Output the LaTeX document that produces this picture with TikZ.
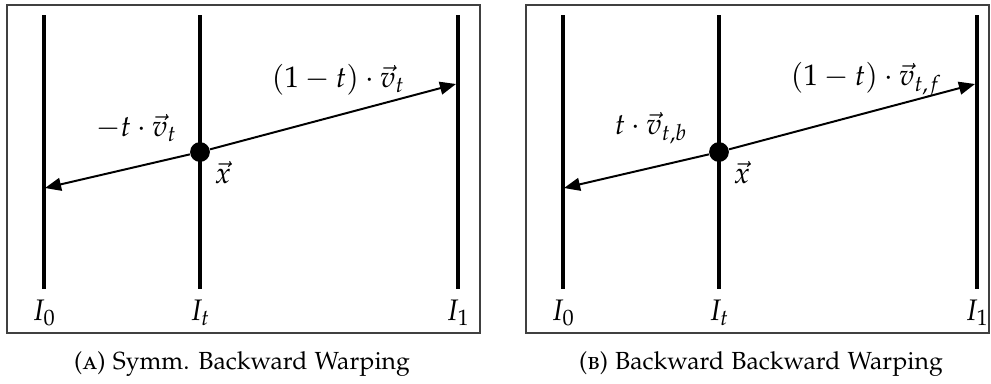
\documentclass[tikz,border=0pt]{standalone}
\usepackage[T1]{fontenc}
\usepackage[sc]{mathpazo}
\usetikzlibrary{arrows.meta}

\begin{document}
\begin{tikzpicture}[x=0.0142cm, y=-0.0142cm,
	frame/.style={draw=black!75, line width=0.5pt},
	track/.style={line width=1.6pt},
	flow/.style={line width=0.8pt, -{Triangle[length=6.5pt, width=5.2pt]}},
	pix/.style={circle, fill, inner sep=0pt, minimum size=8pt},
	lbl/.style={font=\large},
	]
	\useasboundingbox (0,0) rectangle (991,383);
	\foreach \p/\sh/\rx/\lv/\rv/\cp in {
		a/0/480/{-t\cdot\vec{v}_t}/{(1-t)\cdot\vec{v}_t}/{(\textsc{a}) Symm. Backward Warping},
		b/519/470/{t\cdot\vec{v}_{t,b}}/{(1-t)\cdot\vec{v}_{t,f}}/{(\textsc{b}) Backward Backward Warping}}
	{
		\begin{scope}[shift={(\sh,0)}]
			\draw[frame] (7,5) rectangle (\rx,333);
			\foreach \n/\xx in {0/44, t/200, 1/458} {
				\coordinate (top\p\n) at (\xx,15);
				\coordinate (bot\p\n) at (\xx,289);
				\draw[track] (top\p\n) -- (bot\p\n);
				\node[lbl] (lab\p\n) at (\xx,313) {$I_\n$};
			}
			\node[pix] (x\p) at (200,152) {};
			\coordinate (l\p) at (45,188);
			\coordinate (r\p) at (456,84);
			\draw[flow] (x\p) -- (l\p);
			\draw[flow] (x\p) -- (r\p);
			\node[lbl, anchor=west] (rv\p) at (263,80) {$\rv$};
			\node[lbl, anchor=west] (lv\p) at (87,128) {$\lv$};
			\node[lbl] (xl\p) at (223,173) {$\vec{x}$};
			\node (cap\p) at (242,364) {\cp};
		\end{scope}
	}
\end{tikzpicture}
\end{document}
